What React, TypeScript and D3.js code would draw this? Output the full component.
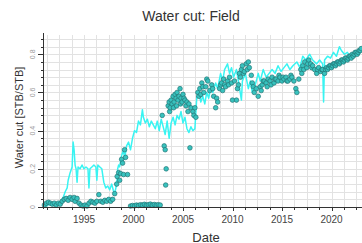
import * as d3 from 'd3';
import React, { Component } from 'react';

// decimal year, water cut (simulated / line)
const lineCut: [number, number][] = [
  [1990.9, 0.01], [1991.2, 0.005], [1991.5, 0.015], [1991.8, 0.01], [1992.1, 0.02], [1992.4, 0.01],
  [1992.6, 0.025], [1992.9, 0.05], [1993.1, 0.08], [1993.3, 0.1], [1993.4, 0.14], [1993.6, 0.18],
  [1993.8, 0.21], [1993.9, 0.34], [1994.0, 0.3], [1994.1, 0.22], [1994.2, 0.2], [1994.3, 0.13],
  [1994.4, 0.21], [1994.6, 0.2], [1994.8, 0.22], [1995.0, 0.2], [1995.2, 0.21], [1995.4, 0.2],
  [1995.5, 0.1], [1995.6, 0.2], [1995.8, 0.21], [1996.0, 0.22], [1996.2, 0.21], [1996.3, 0.14],
  [1996.4, 0.22], [1996.6, 0.21], [1996.8, 0.2], [1997.0, 0.13], [1997.2, 0.1], [1997.4, 0.11],
  [1997.6, 0.09], [1997.8, 0.12], [1998.0, 0.08], [1998.1, 0.07], [1998.3, 0.12], [1998.4, 0.2],
  [1998.5, 0.22], [1998.6, 0.21], [1998.8, 0.27], [1999.0, 0.3], [1999.1, 0.25], [1999.3, 0.32],
  [1999.5, 0.34], [1999.7, 0.3], [1999.9, 0.36], [2000.1, 0.4], [2000.3, 0.39], [2000.5, 0.45],
  [2000.7, 0.43], [2000.9, 0.51], [2001.0, 0.47], [2001.2, 0.44], [2001.4, 0.46], [2001.6, 0.42],
  [2001.8, 0.45], [2002.0, 0.43], [2002.2, 0.41], [2002.4, 0.45], [2002.6, 0.4], [2002.8, 0.46],
  [2003.0, 0.42], [2003.2, 0.38], [2003.4, 0.45], [2003.6, 0.36], [2003.8, 0.44], [2004.0, 0.47],
  [2004.2, 0.43], [2004.4, 0.48], [2004.6, 0.46], [2004.8, 0.5], [2005.0, 0.44], [2005.2, 0.47],
  [2005.4, 0.41], [2005.6, 0.39], [2005.8, 0.42], [2006.0, 0.4], [2006.2, 0.41], [2006.4, 0.58],
  [2006.6, 0.6], [2006.8, 0.55], [2007.0, 0.58], [2007.2, 0.54], [2007.4, 0.6], [2007.6, 0.57],
  [2007.8, 0.63], [2008.0, 0.6], [2008.3, 0.65], [2008.5, 0.62], [2008.8, 0.7], [2009.0, 0.66],
  [2009.2, 0.72], [2009.5, 0.75], [2009.7, 0.7], [2009.9, 0.73], [2010.1, 0.68], [2010.4, 0.72],
  [2010.6, 0.66], [2010.9, 0.56], [2011.0, 0.66], [2011.3, 0.7], [2011.6, 0.62], [2011.8, 0.66],
  [2012.0, 0.6], [2012.3, 0.64], [2012.6, 0.7], [2012.8, 0.66], [2013.1, 0.72], [2013.4, 0.68],
  [2013.7, 0.7], [2014.0, 0.72], [2014.3, 0.7], [2014.6, 0.74], [2014.9, 0.71], [2015.2, 0.73],
  [2015.5, 0.75], [2015.8, 0.72], [2016.1, 0.74], [2016.5, 0.76], [2016.8, 0.73], [2017.1, 0.79],
  [2017.4, 0.77], [2017.8, 0.8], [2018.1, 0.77], [2018.5, 0.75], [2018.8, 0.77], [2019.1, 0.75],
  [2019.2, 0.55], [2019.3, 0.77], [2019.6, 0.79], [2019.9, 0.78], [2020.2, 0.81], [2020.5, 0.79],
  [2020.8, 0.84], [2021.0, 0.82], [2021.3, 0.8], [2021.6, 0.81], [2021.9, 0.79], [2022.2, 0.8],
  [2022.5, 0.82], [2022.8, 0.8], [2023.0, 0.83]
];

// decimal year, water cut (observed / points)
const pointCut: [number, number][] = [
  [1991.0, 0.01], [1991.2, 0.02], [1991.4, 0.025], [1991.6, 0.02], [1991.8, 0.015], [1992.0, 0.02],
  [1992.2, 0.01], [1992.4, 0.02], [1992.6, 0.015], [1992.8, 0.03], [1993.0, 0.04], [1993.2, 0.045],
  [1993.4, 0.035], [1993.6, 0.05], [1993.8, 0.04], [1994.0, 0.05], [1994.1, 0.03], [1994.3, 0.045],
  [1994.5, 0.02], [1994.7, 0.01], [1994.9, 0.005], [1995.1, 0.01], [1995.3, 0.005], [1995.5, 0.02],
  [1995.7, 0.03], [1995.9, 0.025], [1996.1, 0.02], [1996.3, 0.03], [1996.5, 0.065], [1996.7, 0.03],
  [1996.9, 0.025], [1997.1, 0.035], [1997.3, 0.03], [1997.5, 0.04], [1997.7, 0.03], [1997.9, 0.04],
  [1998.1, 0.07], [1998.3, 0.12], [1998.35, 0.16], [1998.5, 0.18], [1998.6, 0.14], [1998.7, 0.175],
  [1998.8, 0.25], [1998.9, 0.23], [1999.0, 0.17], [1999.1, 0.3], [1999.2, 0.26], [1999.4, 0.17],
  [1999.7, 0.005], [1999.9, 0.008], [2000.1, 0.006], [2000.3, 0.01], [2000.5, 0.008], [2000.7, 0.012],
  [2000.9, 0.01], [2001.1, 0.014], [2001.3, 0.01], [2001.5, 0.012], [2001.7, 0.015], [2001.9, 0.01],
  [2002.1, 0.013], [2002.3, 0.01], [2002.5, 0.012], [2002.7, 0.01],
  [2002.9, 0.48], [2003.1, 0.32], [2003.2, 0.3], [2003.3, 0.2], [2003.25, 0.115],
  [2003.5, 0.53], [2003.6, 0.55], [2003.65, 0.5], [2003.7, 0.52], [2003.8, 0.56], [2003.9, 0.54],
  [2004.0, 0.58], [2004.05, 0.52], [2004.1, 0.55], [2004.2, 0.59], [2004.3, 0.57], [2004.35, 0.53],
  [2004.4, 0.6], [2004.5, 0.56], [2004.6, 0.58], [2004.7, 0.62], [2004.75, 0.54], [2004.8, 0.57],
  [2004.9, 0.55], [2005.0, 0.59], [2005.1, 0.57], [2005.2, 0.56], [2005.3, 0.53], [2005.4, 0.55],
  [2005.5, 0.5], [2005.7, 0.31], [2005.6, 0.54], [2005.8, 0.52], [2006.0, 0.5], [2006.1, 0.48],
  [2006.2, 0.52], [2006.3, 0.47], [2006.5, 0.6], [2006.6, 0.58], [2006.7, 0.62], [2006.8, 0.59],
  [2006.9, 0.65], [2007.0, 0.63], [2007.1, 0.6], [2007.3, 0.63], [2007.4, 0.67], [2007.5, 0.66],
  [2007.7, 0.61], [2007.9, 0.64], [2008.0, 0.62], [2008.1, 0.58], [2008.3, 0.52], [2008.4, 0.57],
  [2008.5, 0.55], [2008.7, 0.62], [2008.8, 0.64], [2008.9, 0.65], [2009.0, 0.61], [2009.1, 0.67],
  [2009.2, 0.64], [2009.3, 0.63], [2009.5, 0.66], [2009.6, 0.64], [2009.7, 0.68], [2009.9, 0.65],
  [2010.0, 0.56], [2010.2, 0.66], [2010.4, 0.56], [2010.5, 0.62], [2010.6, 0.64], [2010.7, 0.7],
  [2010.8, 0.68], [2010.9, 0.72], [2011.0, 0.74], [2011.1, 0.7], [2011.2, 0.71], [2011.4, 0.75],
  [2011.5, 0.72], [2011.6, 0.76], [2011.7, 0.73], [2011.9, 0.69],
  [2012.0, 0.65], [2012.1, 0.63], [2012.2, 0.6], [2012.4, 0.62], [2012.6, 0.58], [2012.8, 0.63],
  [2012.9, 0.61], [2013.0, 0.64], [2013.1, 0.66], [2013.2, 0.66], [2013.4, 0.65], [2013.5, 0.63],
  [2013.6, 0.67], [2013.8, 0.66], [2013.9, 0.64], [2014.0, 0.68], [2014.2, 0.65], [2014.3, 0.67],
  [2014.4, 0.67], [2014.6, 0.66], [2014.7, 0.69], [2014.8, 0.68], [2015.0, 0.66], [2015.1, 0.68],
  [2015.2, 0.67], [2015.4, 0.68], [2015.5, 0.66], [2015.6, 0.66], [2015.8, 0.67], [2015.9, 0.69],
  [2016.0, 0.68], [2016.2, 0.66], [2016.4, 0.62], [2016.5, 0.6], [2016.7, 0.67],
  [2016.9, 0.72], [2017.0, 0.7], [2017.1, 0.74], [2017.2, 0.72], [2017.3, 0.76], [2017.5, 0.73],
  [2017.6, 0.75], [2017.7, 0.77], [2017.9, 0.75], [2018.0, 0.73], [2018.1, 0.74], [2018.3, 0.72],
  [2018.5, 0.7], [2018.6, 0.72], [2018.7, 0.73], [2018.9, 0.71], [2019.0, 0.72], [2019.1, 0.72],
  [2019.3, 0.7], [2019.4, 0.72], [2019.5, 0.73], [2019.6, 0.72], [2019.7, 0.73], [2019.8, 0.74],
  [2019.9, 0.74], [2020.0, 0.73], [2020.1, 0.74], [2020.2, 0.75], [2020.3, 0.75], [2020.4, 0.74],
  [2020.5, 0.75], [2020.6, 0.76], [2020.7, 0.76], [2020.8, 0.75], [2020.9, 0.76], [2021.0, 0.77],
  [2021.1, 0.77], [2021.2, 0.76], [2021.3, 0.77], [2021.4, 0.78], [2021.5, 0.78], [2021.6, 0.77],
  [2021.7, 0.78], [2021.8, 0.79], [2021.9, 0.79], [2022.0, 0.78], [2022.1, 0.8], [2022.2, 0.79],
  [2022.3, 0.8], [2022.4, 0.81], [2022.5, 0.81], [2022.6, 0.8], [2022.7, 0.81], [2022.8, 0.82],
  [2022.9, 0.82], [2023.0, 0.83]
];

const xMajorTicks = [1995, 2000, 2005, 2010, 2015, 2020];
const yMajorTicks = [0, 0.2, 0.4, 0.6, 0.8];

class WaterCutChart extends Component {
  svgRef = React.createRef<SVGSVGElement>();
  width = 362;
  height = 243;

  componentDidMount() {
    this.draw();
  }

  draw() {
    const svg = d3.select(this.svgRef.current);
    svg.selectAll('*').remove();

    const left = 43, right = 362, top = 35, bottom = 207;
    const x = d3.scaleLinear().domain([1995, 2020]).range([84, 331.5]);
    const y = d3.scaleLinear().domain([0, 0.8]).range([bottom, 54.3]);
    const font = "'Liberation Sans', Arial, sans-serif";

    // grid: every 1.25 years and every 0.04
    const xMinor = d3.range(1991.25, 2023.2, 1.25);
    const yMinor = d3.range(0, 0.9, 0.04);
    const grid = svg.append('g').attr('stroke', '#e2e2e2').attr('stroke-width', 1);
    grid.selectAll('line.v').data(xMinor).enter().append('line')
      .attr('x1', d => Math.round(x(d)) + 0.5).attr('x2', d => Math.round(x(d)) + 0.5)
      .attr('y1', top).attr('y2', bottom + 1);
    grid.selectAll('line.h').data(yMinor).enter().append('line')
      .attr('x1', left).attr('x2', right)
      .attr('y1', d => Math.round(y(d)) + 0.5).attr('y2', d => Math.round(y(d)) + 0.5);

    // simulated line
    const line = d3.line<[number, number]>().x(d => x(d[0])).y(d => y(d[1]));
    svg.append('path')
      .datum(lineCut)
      .attr('d', line)
      .attr('fill', 'none')
      .attr('stroke', '#38f4f2')
      .attr('stroke-width', 1.5)
      .attr('stroke-linejoin', 'round');

    // observed points
    svg.append('g').selectAll('circle')
      .data(pointCut)
      .enter()
      .append('circle')
      .attr('cx', d => x(d[0]))
      .attr('cy', d => y(d[1]))
      .attr('r', 2.3)
      .attr('fill', '#38c2be')
      .attr('stroke', '#237676')
      .attr('stroke-width', 0.7);

    // axes
    const axis = svg.append('g').attr('stroke', '#333').attr('stroke-width', 1);
    axis.append('line').attr('x1', left + 0.5).attr('x2', left + 0.5).attr('y1', top - 2).attr('y2', bottom + 2);
    axis.append('line').attr('x1', left).attr('x2', right).attr('y1', bottom + 0.5).attr('y2', bottom + 0.5);
    axis.selectAll('line.ym').data(yMinor).enter().append('line')
      .attr('x1', left - 2).attr('x2', left)
      .attr('y1', d => Math.round(y(d)) + 0.5).attr('y2', d => Math.round(y(d)) + 0.5);
    axis.selectAll('line.yM').data(yMajorTicks).enter().append('line')
      .attr('x1', left - 5).attr('x2', left)
      .attr('y1', d => Math.round(y(d)) + 0.5).attr('y2', d => Math.round(y(d)) + 0.5);
    axis.selectAll('line.xm').data(xMinor).enter().append('line')
      .attr('x1', d => Math.round(x(d)) + 0.5).attr('x2', d => Math.round(x(d)) + 0.5)
      .attr('y1', bottom).attr('y2', bottom + 3);
    axis.selectAll('line.xM').data(xMajorTicks).enter().append('line')
      .attr('x1', d => Math.round(x(d)) + 0.5).attr('x2', d => Math.round(x(d)) + 0.5)
      .attr('y1', bottom).attr('y2', bottom + 4);

    // tick labels
    svg.append('g').selectAll('text')
      .data(xMajorTicks)
      .enter()
      .append('text')
      .attr('x', d => x(d))
      .attr('y', 222.5)
      .attr('text-anchor', 'middle')
      .style('font-family', font)
      .style('font-size', '10px')
      .style('fill', '#444')
      .text(d => d);

    svg.append('g').selectAll('text')
      .data(yMajorTicks)
      .enter()
      .append('text')
      .attr('transform', d => 'translate(34.5,' + y(d) + ') rotate(-90)')
      .attr('text-anchor', 'middle')
      .style('font-family', font)
      .style('font-size', '7px')
      .style('fill', '#999')
      .text(d => d === 0 ? '0' : d.toFixed(1));

    // titles
    svg.append('text')
      .attr('x', 191)
      .attr('y', 20.5)
      .attr('text-anchor', 'middle')
      .style('font-family', font)
      .style('font-size', '14px')
      .style('fill', '#333')
      .text('Water cut: Field');

    svg.append('text')
      .attr('x', 206)
      .attr('y', 241.5)
      .attr('text-anchor', 'middle')
      .style('font-family', font)
      .style('font-size', '13px')
      .style('fill', '#333')
      .text('Date');

    svg.append('text')
      .attr('transform', 'translate(23,117.5) rotate(-90)')
      .attr('text-anchor', 'middle')
      .style('font-family', font)
      .style('font-size', '11px')
      .style('fill', '#333')
      .text('Water cut [STB/STB]');
  }

  render() {
    return (
      <svg ref={this.svgRef} width={this.width} height={this.height}
        style={{ position: 'absolute', left: 0, top: 0, background: '#fff' }} />
    );
  }
}

export default function App() {
  return <WaterCutChart />;
}
